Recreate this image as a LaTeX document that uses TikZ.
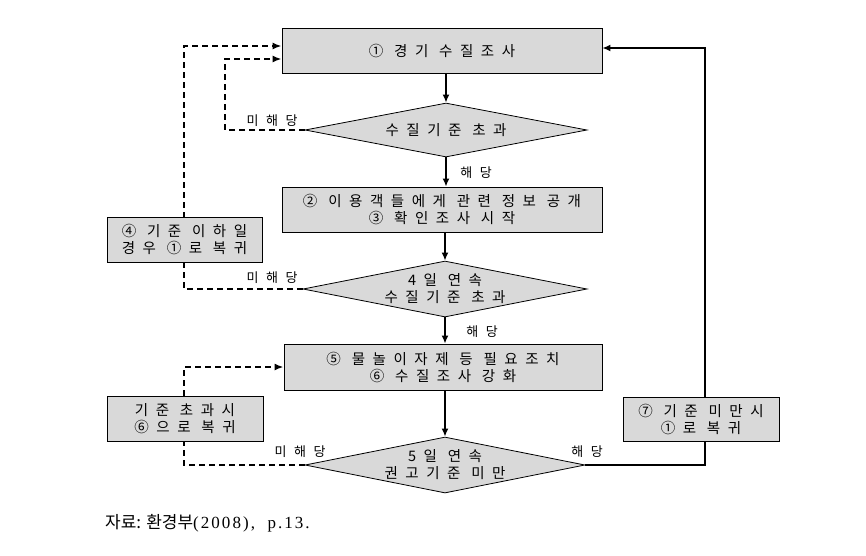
\documentclass[tikz,border=0pt]{standalone}
\usepackage{fontspec}
\setmainfont{Liberation Serif}
\newfontfamily\kr[LetterSpace=52]{Noto Sans CJK KR}
\newfontfamily\krl[LetterSpace=58]{Noto Sans CJK KR}
\newfontfamily\krcap{Noto Sans CJK KR}
\usetikzlibrary{shapes.geometric,arrows.meta,calc}
\definecolor{boxgray}{RGB}{217,217,217}
\begin{document}
\begin{tikzpicture}[x=1pt,y=-1pt,
  box/.style={draw=black, line width=0.8pt, fill=boxgray, inner sep=0pt, align=center,
    font=\kr\fontsize{14.5}{17}\selectfont},
  dia/.style={draw=black, line width=0.8pt, fill=boxgray, diamond, inner sep=0pt},
  dtxt/.style={align=center, inner sep=0pt, font=\kr\fontsize{14.5}{17}\selectfont},
  lbl/.style={inner sep=0pt, font=\krl\fontsize{13}{14}\selectfont},
  flow/.style={line width=2pt, -{Latex[length=8pt,width=7pt]}},
  back/.style={line width=2pt, dash pattern=on 6pt off 4pt, -{Latex[length=9pt,width=7pt]}}
]
\path[use as bounding box] (0,0) rectangle (866,555);

% main column
\node[box, minimum width=320pt, minimum height=45pt] (b1) at (442,50.5) {① 경기 수질조사};
\node[dia, minimum width=282pt, minimum height=54pt] (d1) at (446,130) {};
\node[dtxt] (t1) at (d1) {수질기준 초과};
\node[box, minimum width=320pt, minimum height=45pt] (b2) at (442,209.5) {② 이용객들에게 관련 정보 공개\\③ 확인조사 시작};
\node[dia, minimum width=284pt, minimum height=56pt] (d2) at (445,289) {};
\node[dtxt] (t2) at (d2) {4일 연속\\수질기준 초과};
\node[box, minimum width=318pt, minimum height=46pt] (b5) at (443,367) {⑤ 물놀이자제 등 필요조치\\⑥ 수질조사 강화};
\node[dia, minimum width=280pt, minimum height=56pt] (d3) at (445,465) {};
\node[dtxt] (t3) at (d3) {5일 연속\\권고기준 미만};

\draw[flow] (b1.south -| d1.north) -- (d1.north);
\draw[flow] (d1.south) -- (d1.south |- b2.north);
\draw[flow] (b2.south -| d2.north) -- (d2.north);
\draw[flow] (d2.south) -- (d2.south |- b5.north);
\draw[flow] (b5.south -| d3.north) -- (d3.north);

% feedback loops
\coordinate (in1) at (225,59);
\coordinate (out1) at (184,46);
\coordinate (out3) at (184,367);
\coordinate (r1) at (705,48);
\draw[back] (d1.west) -| (in1) -- (b1.west |- in1);
\draw[back] (d2.west) -| (out1) -- (b1.west |- out1);
\draw[back] (d3.west) -| (out3) -- (b5.west |- out3);
\draw[flow] (d3.east) -| (r1) -- (b1.east |- r1);

% side boxes
\node[box, minimum width=155pt, minimum height=45pt] (b4) at (184.5,239.5) {④ 기준 이하일\\경우 ①로 복귀};
\node[box, minimum width=156pt, minimum height=45pt] (b6) at (185,418.5) {기준 초과시\\⑥으로 복귀};
\node[box, minimum width=156pt, minimum height=44pt] (b7) at (701,419) {⑦ 기준 미만시\\①로 복귀};

% labels
\node[lbl] (l1) at (272,121) {미해당};
\node[lbl] (l2) at (476,173) {해당};
\node[lbl] (l3) at (272,278) {미해당};
\node[lbl] (l4) at (482,332) {해당};
\node[lbl] (l5) at (300,452) {미해당};
\node[lbl] (l6) at (587,452) {해당};

% source
\node[anchor=west, inner sep=0pt] (src) at (105,523) {{\krcap\fontsize{17}{19}\selectfont 자료: 환경부}{\fontsize{17}{19}\selectfont\addfontfeature{LetterSpace=12}(2008),\ \ p.13.}};
\end{tikzpicture}
\end{document}
